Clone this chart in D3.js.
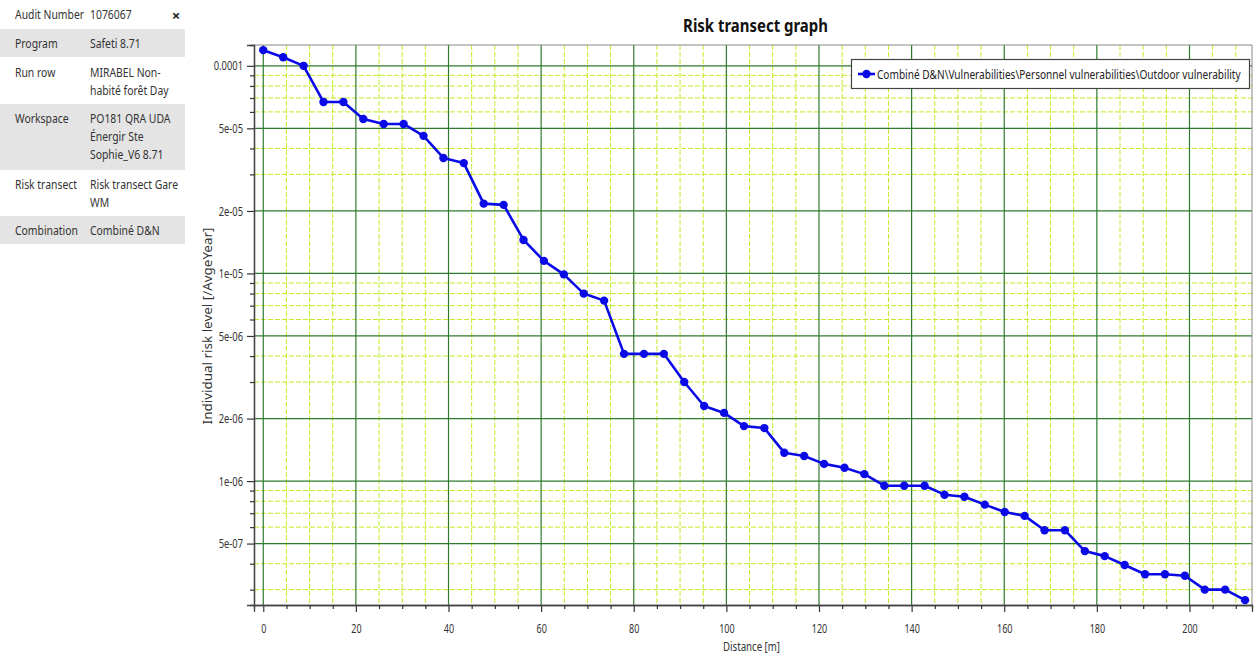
<!DOCTYPE html>
<html><head><meta charset="utf-8">
<script src="https://cdn.jsdelivr.net/npm/d3@7"></script>
<style>body{margin:0;background:#fff}svg{display:block}</style>
</head><body><svg id="c" width="1256" height="656"></svg>
<script>
// ---------- data ----------
const distances = [0, 4.3, 8.7, 13.0, 17.3, 21.6, 26.0, 30.3, 34.6, 38.9,
  43.3, 47.6, 51.9, 56.2, 60.6, 64.9, 69.2, 73.6, 77.9, 82.2,
  86.5, 90.9, 95.2, 99.5, 103.8, 108.2, 112.5, 116.8, 121.1, 125.5,
  129.8, 134.1, 138.4, 142.8, 147.1, 151.4, 155.8, 160.1, 164.4, 168.7,
  173.1, 177.4, 181.7, 186.0, 190.4, 194.7, 199.0, 203.3, 207.7, 212.0];
const riskValues = [1.19e-4, 1.10e-4, 1.0e-4, 6.7e-5, 6.7e-5, 5.55e-5, 5.25e-5, 5.25e-5, 4.6e-5, 3.6e-5,
  3.4e-5, 2.17e-5, 2.14e-5, 1.45e-5, 1.15e-5, 9.9e-6, 8.0e-6, 7.4e-6, 4.1e-6, 4.1e-6,
  4.1e-6, 3.0e-6, 2.3e-6, 2.13e-6, 1.84e-6, 1.8e-6, 1.37e-6, 1.32e-6, 1.21e-6, 1.16e-6,
  1.08e-6, 9.5e-7, 9.5e-7, 9.5e-7, 8.6e-7, 8.4e-7, 7.7e-7, 7.1e-7, 6.8e-7, 5.8e-7,
  5.8e-7, 4.6e-7, 4.35e-7, 3.94e-7, 3.56e-7, 3.56e-7, 3.5e-7, 3.0e-7, 3.0e-7, 2.67e-7];
const xMajorTicks = [0, 20, 40, 60, 80, 100, 120, 140, 160, 180, 200];
const xMinorTicks = [5, 10, 15, 25, 30, 35, 45, 50, 55, 65, 70, 75, 85, 90, 95, 105, 110, 115,
  125, 130, 135, 145, 150, 155, 165, 170, 175, 185, 190, 195, 205, 210];
const yMajorTicks = [1e-4, 5e-5, 2e-5, 1e-5, 5e-6, 2e-6, 1e-6, 5e-7];
const yMajorLabels = ["0.0001", "5e-05", "2e-05", "1e-05", "5e-06", "2e-06", "1e-06", "5e-07"];
const yMinorTicks = [9e-5, 8e-5, 7e-5, 6e-5, 4e-5, 3e-5, 9e-6, 8e-6, 7e-6, 6e-6, 4e-6, 3e-6,
  9e-7, 8e-7, 7e-7, 6e-7, 4e-7, 3e-7];
const infoLabels = ["Audit Number", "Program", "Run row", "Workspace", "Risk transect", "Combination"];
const infoValues = [["1076067"], ["Safeti 8.71"], ["MIRABEL Non-", "habité forêt Day"],
  ["PO181 QRA UDA", "Énergir Ste", "Sophie_V6 8.71"], ["Risk transect Gare", "WM"], ["Combiné D&N"]];
const chartTitle = "Risk transect graph";
const seriesName = "Combiné D&N\\Vulnerabilities\\Personnel vulnerabilities\\Outdoor vulnerability";
const xTitle = "Distance [m]";
const yTitle = "Individual risk level [/AvgeYear]";

// ---------- layout ----------
const FONT = "'Noto Sans', 'Open Sans', sans-serif";
const svg = d3.select("#c");
const L = 254, R = 1252, T = 45, B = 605;
const x = d3.scaleLinear().domain([-2, 213.5]).range([L, R]);
const y = d3.scaleLog().domain([2.53e-7, 1.26e-4]).range([B, T]);

function txt(g, px, py, s, o = {}) {
  const t = g.append("text")
    .attr("font-family", FONT)
    .attr("font-size", o.size ?? 13.5)
    .attr("font-weight", o.weight ?? "normal")
    .attr("text-anchor", o.anchor ?? "start")
    .attr("fill", o.fill ?? "#333")
    .text(s);
  let sx = o.sx ?? 0.77;
  if (o.width) sx = o.width / t.node().getComputedTextLength();
  t.attr("transform", `translate(${px},${py}) ${o.rot ? "rotate(" + o.rot + ") " : ""}scale(${sx},1)`);
  return t;
}

// ---------- info panel ----------
const panel = svg.append("g");
const rowBands = [[0, 29], [29, 57], [57, 104], [104, 170], [170, 216], [216, 244]];
const rowCenters = [14, 43, 72, 118, 184, 230];
infoLabels.forEach((lab, i) => {
  if (i % 2 === 1) {
    panel.append("rect").attr("x", 0).attr("y", rowBands[i][0]).attr("width", 185)
      .attr("height", rowBands[i][1] - rowBands[i][0]).attr("fill", "#e4e4e4");
  }
  txt(panel, 15, rowCenters[i] + 5, lab);
  infoValues[i].forEach((v, j) => txt(panel, 90, rowCenters[i] + 5 + j * 18, v));
});
txt(panel, 176, 21, "×", {weight: "bold", size: 15, sx: 1, anchor: "middle", fill: "#222"});

// ---------- plot ----------
const plot = svg.append("g");
plot.append("rect").attr("x", L).attr("y", T).attr("width", R - L).attr("height", B - T).attr("fill", "#fff");

const minorColor = "#c2ec28", majorColor = "#2f7a2f";
plot.selectAll(".vmin").data(xMinorTicks).join("line")
  .attr("x1", d => x(d)).attr("x2", d => x(d)).attr("y1", T).attr("y2", B)
  .attr("stroke", minorColor).attr("stroke-width", 1).attr("stroke-dasharray", "5,2");
plot.selectAll(".hmin").data(yMinorTicks).join("line")
  .attr("x1", L).attr("x2", R).attr("y1", d => y(d)).attr("y2", d => y(d))
  .attr("stroke", minorColor).attr("stroke-width", 1).attr("stroke-dasharray", "5,2");
plot.selectAll(".vmaj").data(xMajorTicks).join("line")
  .attr("x1", d => x(d)).attr("x2", d => x(d)).attr("y1", T).attr("y2", B)
  .attr("stroke", majorColor).attr("stroke-width", 1.2);
plot.selectAll(".hmaj").data(yMajorTicks).join("line")
  .attr("x1", L).attr("x2", R).attr("y1", d => y(d)).attr("y2", d => y(d))
  .attr("stroke", majorColor).attr("stroke-width", 1.2);

// frame
plot.append("line").attr("x1", L).attr("x2", R).attr("y1", T).attr("y2", T).attr("stroke", "#888");
plot.append("line").attr("x1", R).attr("x2", R).attr("y1", T).attr("y2", B).attr("stroke", "#888");

// series
const pts = distances.map((d, i) => [d, riskValues[i]]);
const line = d3.line().x(d => x(d[0])).y(d => y(d[1]));
const blue = "#0a0ae6";
plot.append("path").datum(pts).attr("d", line).attr("fill", "none")
  .attr("stroke", blue).attr("stroke-width", 2.6).attr("stroke-linejoin", "round");
plot.selectAll(".pt").data(pts).join("circle")
  .attr("cx", d => x(d[0])).attr("cy", d => y(d[1])).attr("r", 4.2).attr("fill", blue);

// axes
const axY = svg.append("g").attr("transform", `translate(${L},0)`)
  .call(d3.axisLeft(y).tickValues(yMajorTicks).tickSize(7).tickFormat((d, i) => yMajorLabels[i]));
const axYm = svg.append("g").attr("transform", `translate(${L},0)`)
  .call(d3.axisLeft(y).tickValues(yMinorTicks).tickSize(4).tickFormat(""));
const axX = svg.append("g").attr("transform", `translate(0,${B})`)
  .call(d3.axisBottom(x).tickValues(xMajorTicks).tickSize(7));
const axXm = svg.append("g").attr("transform", `translate(0,${B})`)
  .call(d3.axisBottom(x).tickValues(xMinorTicks).tickSize(4).tickFormat(""));
[axY, axYm, axX, axXm].forEach(a => {
  a.select(".domain").attr("stroke", "#444").attr("stroke-width", 1.3);
  a.selectAll(".tick line").attr("stroke", "#333").attr("stroke-width", 1.2);
});
const TS = 0.72;
axY.selectAll(".tick text").attr("font-family", FONT).attr("font-size", 13).attr("fill", "#333")
  .attr("transform", `scale(${TS},1)`).attr("x", -11 / TS);
axX.selectAll(".tick text").attr("font-family", FONT).attr("font-size", 12.5).attr("fill", "#333")
  .attr("transform", `scale(${TS},1)`).attr("y", 28).attr("dy", 0);

// titles
txt(svg, 755.5, 32, chartTitle, {size: 18, weight: "bold", anchor: "middle", fill: "#111", width: 145});
txt(svg, 751.5, 651, xTitle, {size: 12.5, anchor: "middle", width: 57});
txt(svg, 212, 326, yTitle, {size: 12.5, anchor: "middle", width: 197, rot: -90});

// legend
const lg = svg.append("g");
lg.append("rect").attr("x", 851.5).attr("y", 59.5).attr("width", 398).attr("height", 29)
  .attr("fill", "#fff").attr("stroke", "#444").attr("stroke-width", 1.2);
lg.append("line").attr("x1", 858).attr("x2", 875).attr("y1", 74).attr("y2", 74)
  .attr("stroke", blue).attr("stroke-width", 2.6);
lg.append("circle").attr("cx", 866.5).attr("cy", 74).attr("r", 4.2).attr("fill", blue);
txt(lg, 877, 78.5, seriesName, {size: 13, fill: "#222", width: 364});
</script></body></html>
